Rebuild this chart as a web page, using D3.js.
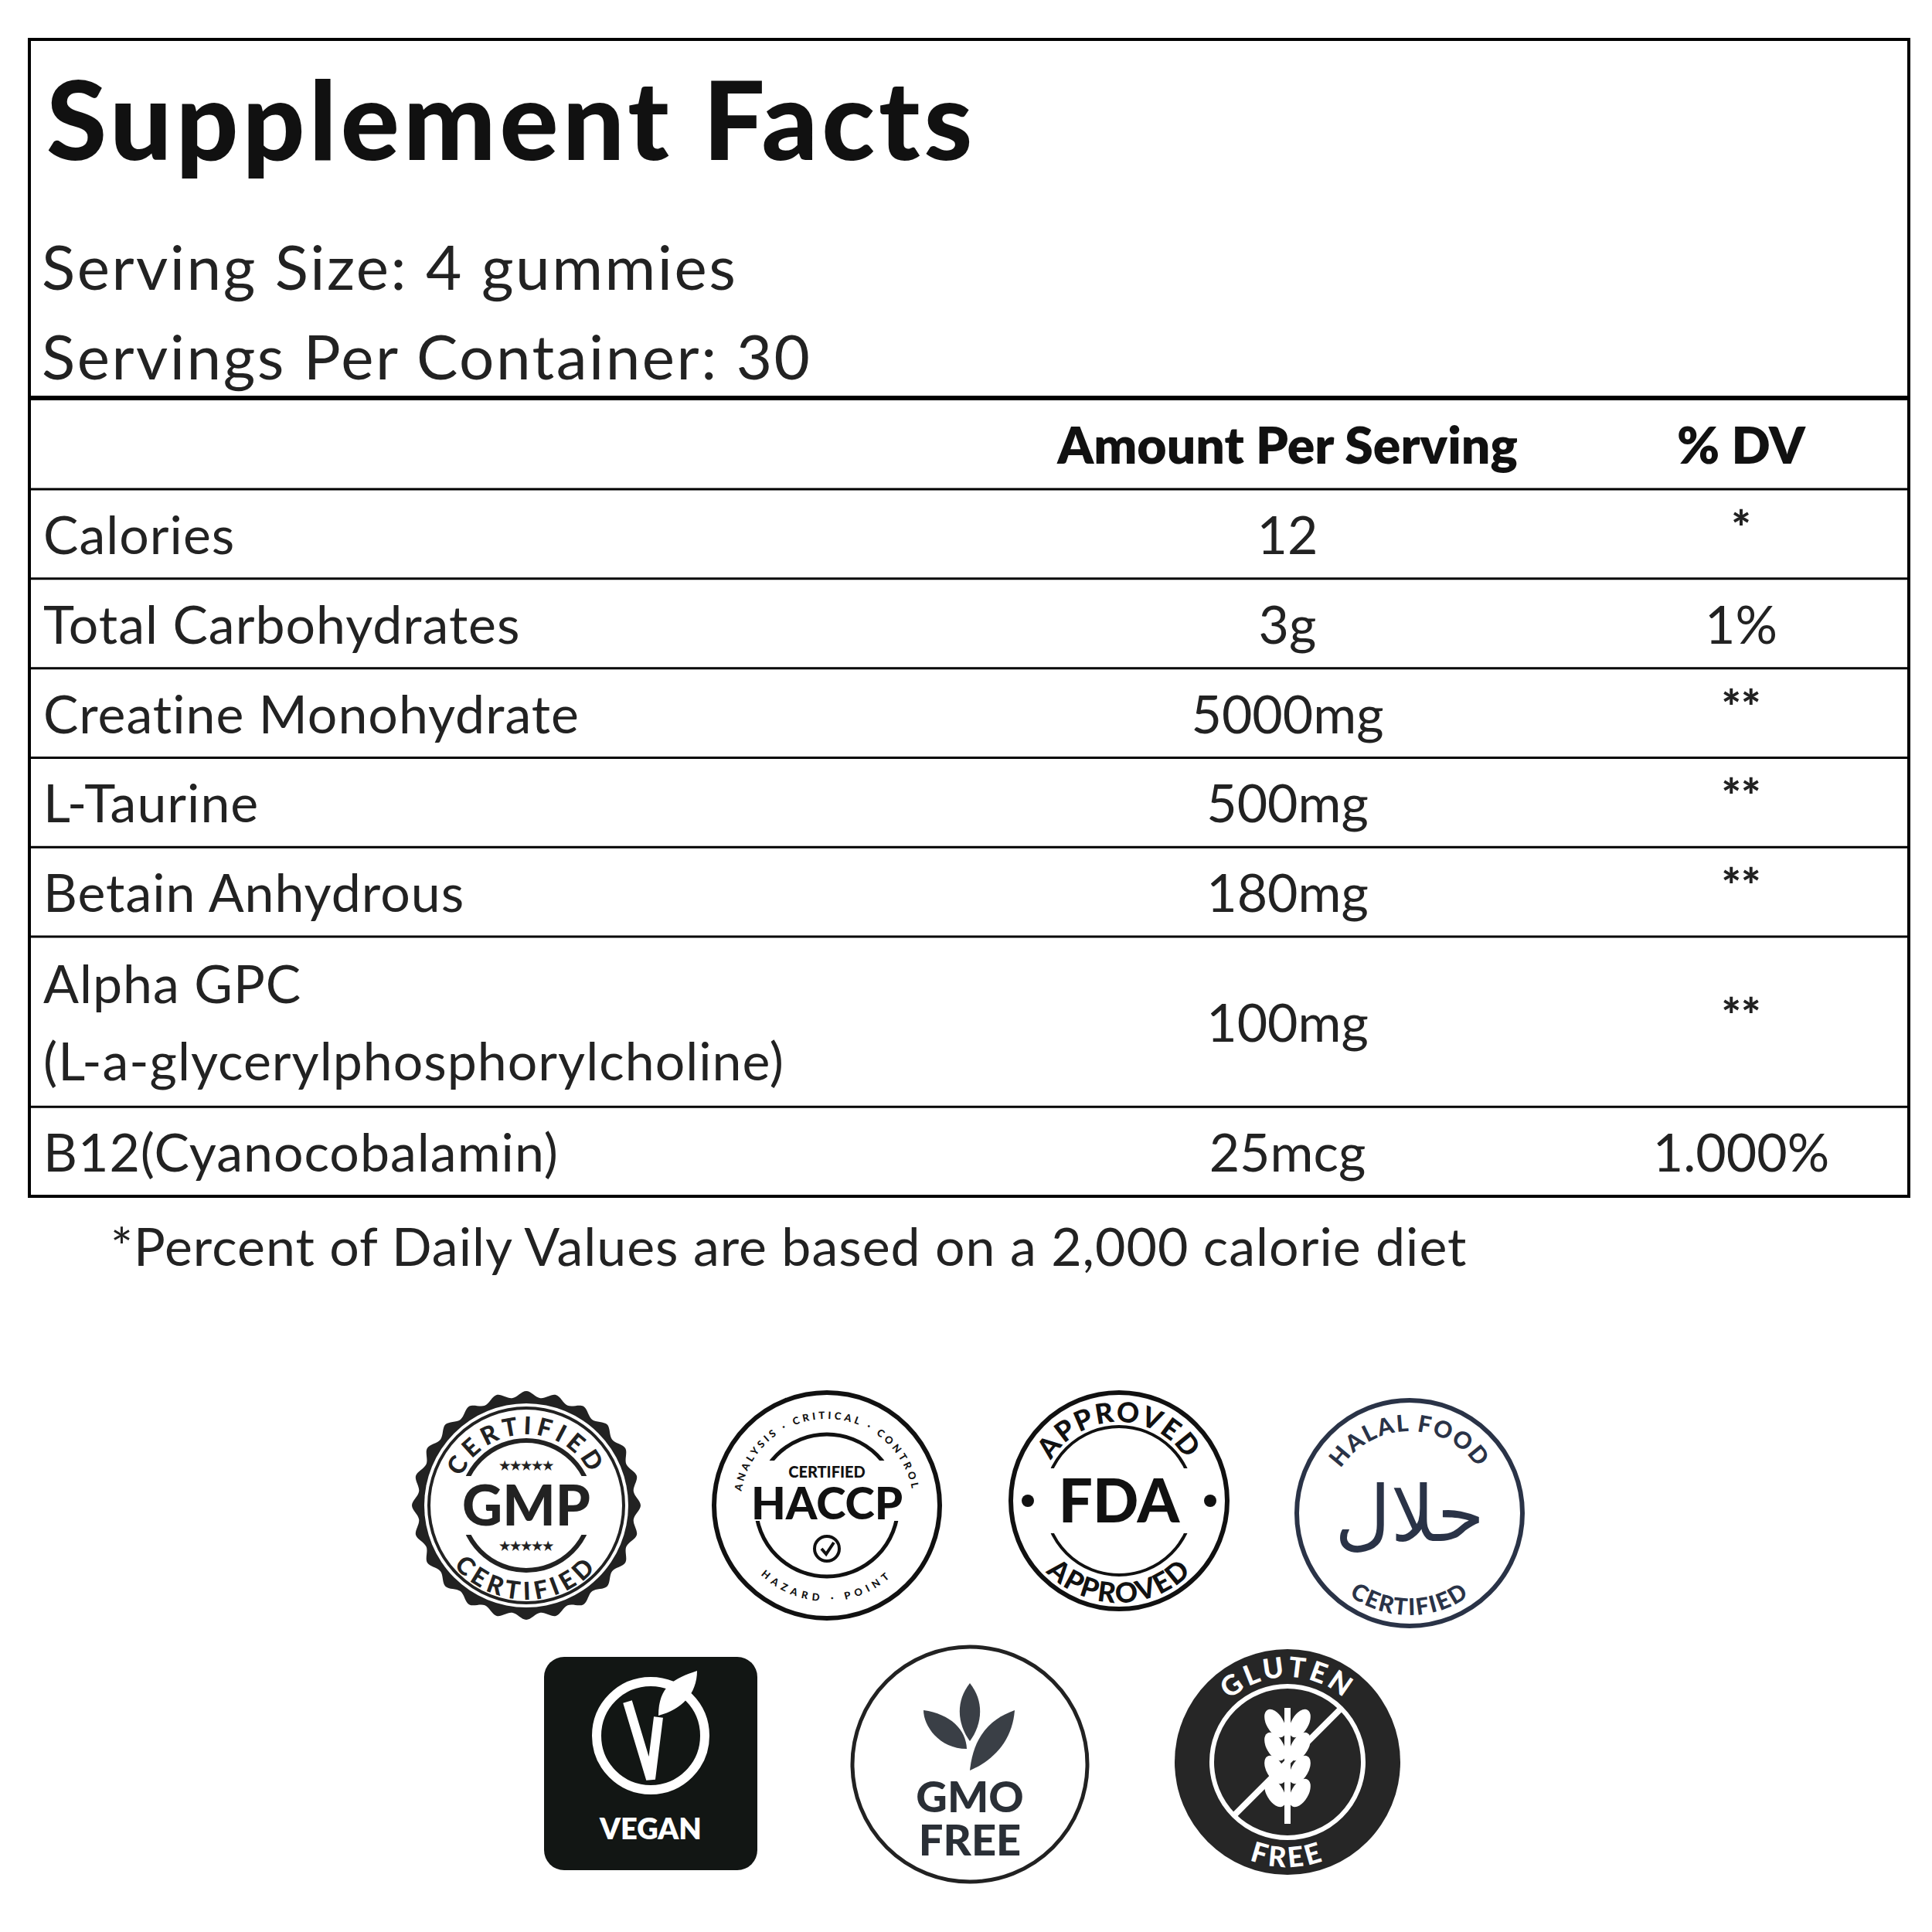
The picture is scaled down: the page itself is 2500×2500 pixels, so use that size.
<!DOCTYPE html>
<html>
<head>
<meta charset="UTF-8">
<script src="https://cdn.jsdelivr.net/npm/d3@7"></script>
<style>body{margin:0;background:#fff}</style>
</head>
<body>
<svg id="chart" width="2500" height="2500"></svg>
<script>
// label data
const servingLines = ["Serving Size: 4 gummies", "Servings Per Container: 30"];
const nutrients = ["Calories", "Total Carbohydrates", "Creatine Monohydrate", "L-Taurine", "Betain Anhydrous", "Alpha GPC|(L-a-glycerylphosphorylcholine)", "B12(Cyanocobalamin)"];
const amounts = ["12", "3g", "5000mg", "500mg", "180mg", "100mg", "25mcg"];
const dvs = ["*", "1%", "**", "**", "**", "**", "1.000%"];
const rowUnits = [1, 1, 1, 1, 1, 1.9, 1];
const footnote = "*Percent of Daily Values are based on a 2,000 calorie diet";

const svg = d3.select("#chart");
const font = "Lato, 'Open Sans', sans-serif";
const L = 38, R = 2470;

// table box
svg.append("rect").attr("x", L).attr("y", 51).attr("width", R - L).attr("height", 1497)
  .attr("fill", "none").attr("stroke", "#000").attr("stroke-width", 4);

svg.append("text").attr("x", 60).attr("y", 207).text("Supplement Facts")
  .attr("font-family", font).attr("font-weight", 900).attr("font-size", 142).attr("letter-spacing", 5).attr("fill", "#111");
svg.selectAll(".serv").data(servingLines).join("text")
  .attr("x", 54).attr("y", (d, i) => 375 + i * 116).text(d => d)
  .attr("font-family", font).attr("font-size", 80).attr("letter-spacing", 2.5).attr("fill", "#222");

svg.append("line").attr("x1", L).attr("x2", R).attr("y1", 515).attr("y2", 515).attr("stroke", "#000").attr("stroke-width", 6);
svg.append("line").attr("x1", L).attr("x2", R).attr("y1", 633).attr("y2", 633).attr("stroke", "#000").attr("stroke-width", 3);

const xAmt = 1666, xDv = 2253;
svg.append("text").attr("x", xAmt).attr("y", 600).attr("text-anchor", "middle").text("Amount Per Serving")
  .attr("font-family", font).attr("font-weight", 800).attr("font-size", 66).attr("fill", "#111");
svg.append("text").attr("x", xDv).attr("y", 600).attr("text-anchor", "middle").text("% DV")
  .attr("font-family", font).attr("font-weight", 800).attr("font-size", 66).attr("fill", "#111");

// rows via a cumulative scale
const totalUnits = d3.sum(rowUnits);
const y = d3.scaleLinear().domain([0, totalUnits]).range([633, 1548]);
let acc = 0;
nutrients.forEach((n, i) => {
  const y0 = y(acc), y1 = y(acc + rowUnits[i]);
  acc += rowUnits[i];
  const mid = (y0 + y1) / 2;
  if (i < nutrients.length - 1)
    svg.append("line").attr("x1", L).attr("x2", R).attr("y1", y1).attr("y2", y1).attr("stroke", "#000").attr("stroke-width", 3);
  const parts = n.split("|");
  parts.forEach((p, k) => {
    svg.append("text").attr("x", 56).attr("y", mid + 26 + (k - (parts.length - 1) / 2) * 100).text(p)
      .attr("font-family", font).attr("font-size", 68).attr("letter-spacing", 1).attr("fill", "#222");
  });
  svg.append("text").attr("x", xAmt).attr("y", mid + 26).attr("text-anchor", "middle").text(amounts[i])
    .attr("font-family", font).attr("font-size", 68).attr("fill", "#222");
  const star = dvs[i].startsWith("*");
  svg.append("text").attr("x", xDv).attr("y", star ? mid + 14 : mid + 26).attr("text-anchor", "middle").text(dvs[i])
    .attr("font-family", font).attr("font-size", star ? 60 : 68).attr("font-weight", star ? 900 : 400).attr("fill", "#222");
});

svg.append("text").attr("x", 143).attr("y", 1638).text(footnote)
  .attr("font-family", font).attr("font-size", 68).attr("letter-spacing", 1).attr("fill", "#222");

// badges
let pid = 0;
function arcText(g, r, text, top, size, color, spacing) {
  const id = "p" + (pid++);
  const path = top
    ? `M ${-r},0 A ${r},${r} 0 0 1 ${r},0`
    : `M ${-r},0 A ${r},${r} 0 0 0 ${r},0`;
  g.append("path").attr("id", id).attr("d", path).attr("fill", "none");
  g.append("text").attr("font-family", font).attr("font-weight", 900).attr("font-size", size)
    .attr("fill", color).attr("letter-spacing", spacing || 0)
    .append("textPath").attr("href", "#" + id).attr("startOffset", "50%").attr("text-anchor", "middle").text(text);
}
function centerText(g, t, yy, size, color, weight) {
  g.append("text").attr("y", yy).attr("text-anchor", "middle").text(t)
    .attr("font-family", font).attr("font-weight", weight || 900).attr("font-size", size).attr("fill", color);
}

// GMP
let g = svg.append("g").attr("transform", "translate(681,1948)");
const star = d3.range(48).map(k => {
  const a = k * Math.PI / 24, rr = k % 2 ? 140 : 148;
  return [rr * Math.cos(a), rr * Math.sin(a)];
});
g.append("path").attr("d", d3.line().curve(d3.curveCardinalClosed)(star)).attr("fill", "#222");
g.append("circle").attr("r", 132).attr("fill", "#fff");
g.append("circle").attr("r", 126).attr("fill", "none").attr("stroke", "#222").attr("stroke-width", 4);
g.append("circle").attr("r", 84).attr("fill", "none").attr("stroke", "#222").attr("stroke-width", 6);
g.append("rect").attr("x", -100).attr("y", -38).attr("width", 200).attr("height", 76).attr("fill", "#fff");
arcText(g, 92, "CERTIFIED", true, 32, "#222", 6);
arcText(g, 122, "CERTIFIED", false, 32, "#222", 6);
centerText(g, "GMP", 26, 72, "#222");
centerText(g, "★★★★★", -46, 16, "#222");
centerText(g, "★★★★★", 58, 16, "#222");

// HACCP
g = svg.append("g").attr("transform", "translate(1070,1948)");
g.append("circle").attr("r", 146).attr("fill", "#fff").attr("stroke", "#111").attr("stroke-width", 6);
g.append("circle").attr("r", 92).attr("fill", "none").attr("stroke", "#111").attr("stroke-width", 5);
g.append("rect").attr("x", -100).attr("y", -58).attr("width", 200).attr("height", 78).attr("fill", "#fff");
arcText(g, 112, "ANALYSIS · CRITICAL · CONTROL", true, 13, "#111", 4);
arcText(g, 124, "HAZARD · POINT", false, 13, "#111", 6);
centerText(g, "CERTIFIED", -36, 20, "#111");
centerText(g, "HACCP", 18, 58, "#111");
g.append("circle").attr("cy", 56).attr("r", 16).attr("fill", "none").attr("stroke", "#111").attr("stroke-width", 4);
g.append("path").attr("d", "M -7,56 L -1,63 L 9,48").attr("fill", "none").attr("stroke", "#111").attr("stroke-width", 4);

// FDA
g = svg.append("g").attr("transform", "translate(1448,1942)");
g.append("circle").attr("r", 140).attr("fill", "#fff").attr("stroke", "#111").attr("stroke-width", 6);
g.append("circle").attr("r", 96).attr("fill", "none").attr("stroke", "#111").attr("stroke-width", 4);
g.append("rect").attr("x", -125).attr("y", -42).attr("width", 250).attr("height", 84).attr("fill", "#fff");
arcText(g, 102, "APPROVED", true, 36, "#111", 2);
arcText(g, 132, "APPROVED", false, 36, "#111", 2);
centerText(g, "FDA", 28, 78, "#111");
g.append("circle").attr("cx", -118).attr("r", 8).attr("fill", "#111");
g.append("circle").attr("cx", 118).attr("r", 8).attr("fill", "#111");

// Halal
g = svg.append("g").attr("transform", "translate(1824,1958)");
g.append("circle").attr("r", 146).attr("fill", "#fff").attr("stroke", "#2a3347").attr("stroke-width", 6);
arcText(g, 106, "HALAL FOOD", true, 30, "#2a3347", 2);
arcText(g, 132, "CERTIFIED", false, 30, "#2a3347", 2);
g.append("text").attr("y", 36).attr("text-anchor", "middle").text("حلال")
  .attr("font-family", "'DejaVu Sans', sans-serif").attr("font-size", 100).attr("fill", "#2a3347");

// Vegan
g = svg.append("g").attr("transform", "translate(842,2282)");
g.append("rect").attr("x", -138).attr("y", -138).attr("width", 276).attr("height", 276).attr("rx", 26).attr("fill", "#121614");
g.append("circle").attr("cy", -36).attr("r", 70).attr("fill", "none").attr("stroke", "#fff").attr("stroke-width", 12);
g.append("path").attr("d", "M -30,-80 L 0,20 L 10,-60").attr("fill", "none").attr("stroke", "#fff").attr("stroke-width", 12);
g.append("path").attr("d", "M 10,-62 C 10,-100 30,-110 60,-120 C 60,-90 40,-70 10,-62 Z").attr("fill", "#fff");
centerText(g, "VEGAN", 98, 38, "#fff", 800);

// GMO free
g = svg.append("g").attr("transform", "translate(1255,2283)");
g.append("circle").attr("r", 152).attr("fill", "#fff").attr("stroke", "#222").attr("stroke-width", 5);
g.append("path").attr("d", "M 0,-105 C -20,-80 -15,-50 0,-30 C 15,-50 20,-80 0,-105 Z").attr("fill", "#3a3f46");
g.append("path").attr("d", "M -4,-20 C -40,-20 -60,-50 -60,-70 C -25,-65 -5,-45 -4,-20 Z").attr("fill", "#3a3f46");
g.append("path").attr("d", "M 0,8 C 5,-40 30,-60 58,-70 C 55,-30 30,-5 0,8 Z").attr("fill", "#3a3f46");
centerText(g, "GMO", 62, 56, "#2a2f36");
centerText(g, "FREE", 118, 56, "#2a2f36");

// Gluten free
g = svg.append("g").attr("transform", "translate(1666,2280)");
g.append("circle").attr("r", 146).attr("fill", "#262626");
g.append("circle").attr("r", 98).attr("fill", "none").attr("stroke", "#fff").attr("stroke-width", 6);
arcText(g, 110, "GLUTEN", true, 36, "#fff", 4);
arcText(g, 136, "FREE", false, 36, "#fff", 4);
g.append("line").attr("x1", 0).attr("x2", 0).attr("y1", -70).attr("y2", 80).attr("stroke", "#fff").attr("stroke-width", 8);
[-50, -20, 10, 40].forEach(yy => {
  g.append("ellipse").attr("cx", -16).attr("cy", yy).attr("rx", 11).attr("ry", 20).attr("transform", `rotate(-30,-16,${yy})`).attr("fill", "#fff");
  g.append("ellipse").attr("cx", 16).attr("cy", yy).attr("rx", 11).attr("ry", 20).attr("transform", `rotate(30,16,${yy})`).attr("fill", "#fff");
});
g.append("line").attr("x1", -68).attr("y1", 68).attr("x2", 68).attr("y2", -68).attr("stroke", "#fff").attr("stroke-width", 8);
</script>
</body>
</html>
